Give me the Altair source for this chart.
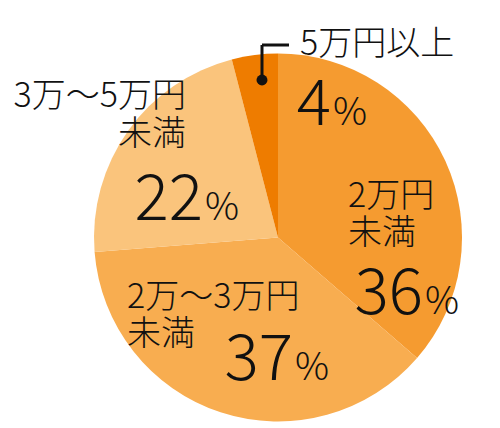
import altair as alt
import pandas as pd

categories = ["2万円未満", "2万〜3万円未満", "3万〜5万円未満", "5万円以上"]
values = [36, 37, 22, 4]
colors = ["#F59B30", "#F8AD50", "#FAC47C", "#EE7C00"]
order = [0, 1, 2, 3]

df = pd.DataFrame({"cat": categories, "value": values, "ord": order})

CX, CY, R = 270, 229.5, 184
FONT = "Noto Sans CJK JP"
WEIGHT = 300

pie = alt.Chart(df).mark_arc(radius=R, stroke=None).encode(
    theta=alt.Theta("value:Q", stack=True),
    color=alt.Color("cat:N", scale=alt.Scale(domain=categories, range=colors), legend=None),
    order=alt.Order("ord:Q"),
    x=alt.value(CX),
    y=alt.value(CY),
)

base = alt.Chart(df)

def txt(text, x, y, size, align="left", baseline="middle"):
    return base.mark_text(text=text, font=FONT, fontSize=size, fontWeight=WEIGHT, align=align,
                          baseline=baseline, color="#111111").encode(
        x=alt.value(x), y=alt.value(y)).transform_filter("datum.ord == 0")

NUM = 64
PCT = 38
LAB = 34

layers = [pie]
# category labels
layers.append(txt("5万円以上", 292, 37, LAB))
layers.append(txt("2万円", 340, 189, LAB))
layers.append(txt("未満", 340, 226, LAB))
layers.append(txt("2万〜3万円", 119, 290, LAB))
layers.append(txt("未満", 119, 327, LAB))
layers.append(txt("3万〜5万円", 178, 89, LAB, align="right"))
layers.append(txt("未満", 178, 127, LAB, align="right"))

# percentages from data
def pct(i, xr, yb):
    num = base.mark_text(font=FONT, fontSize=NUM, fontWeight=WEIGHT, align="right", baseline="alphabetic",
                         color="#111111").encode(
        x=alt.value(xr), y=alt.value(yb), text=alt.Text("value:Q")
    ).transform_filter(f"datum.ord == {i}")
    p = base.mark_text(text="%", font=FONT, fontSize=PCT, fontWeight=WEIGHT, align="left", baseline="alphabetic",
                       color="#111111").encode(
        x=alt.value(xr + 2), y=alt.value(yb)
    ).transform_filter(f"datum.ord == {i}")
    return [num, p]

layers += pct(0, 415, 306)
layers += pct(1, 285, 372)
layers += pct(2, 195, 212)
layers += pct(3, 323, 117)

# leader line for 5万円以上
one = base.transform_filter("datum.ord == 3")
layers.append(one.mark_rule(color="#111111", strokeWidth=3).encode(
    x=alt.value(254), x2=alt.value(281), y=alt.value(37)))
layers.append(one.mark_rule(color="#111111", strokeWidth=3).encode(
    x=alt.value(254), y=alt.value(37), y2=alt.value(72)))
layers.append(one.mark_point(filled=True, color="#111111", size=120, opacity=1).encode(
    x=alt.value(254), y=alt.value(72)))

chart = alt.layer(*layers).properties(width=484, height=410, padding=0).configure_view(stroke=None)

chart.save("out.html", embed_options={"renderer": "svg", "actions": False})
